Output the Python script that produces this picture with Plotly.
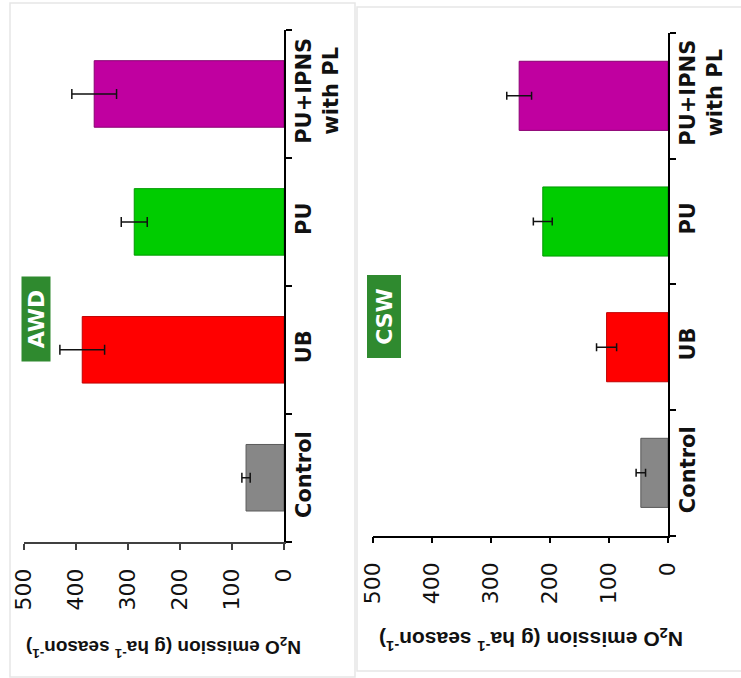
import plotly.graph_objects as go

# Treatments (bottom to top along the category axis)
categories = ["Control", "UB", "PU", "PU+IPNS<br>with PL"]
bar_colors = ["#878787", "#ff0000", "#00cc00", "#c000a0"]
edge_colors = ["#5a5a5a", "#c00000", "#009a00", "#8a0072"]

# Seasonal N2O emission (g ha-1 season-1) and standard errors
awd_values = [73, 388, 288, 365]
awd_errors = [8, 43, 25, 43]
csw_values = [46, 104, 212, 252]
csw_errors = [8, 17, 16, 21]

value_ticks = [0, 100, 200, 300, 400, 500]

W, H = 741, 678


def px(x):
    return x / W


def py(y):
    return 1 - y / H


fig = go.Figure()

fig.add_trace(go.Bar(
    orientation="h", x=awd_values, y=categories, xaxis="x", yaxis="y",
    width=0.52,
    marker=dict(color=bar_colors, line=dict(color=edge_colors, width=1)),
    error_x=dict(type="data", array=awd_errors, color="#111111",
                 thickness=1.5, width=5),
    showlegend=False,
))
fig.add_trace(go.Bar(
    orientation="h", x=csw_values, y=categories, xaxis="x2", yaxis="y2",
    width=0.55,
    marker=dict(color=bar_colors, line=dict(color=edge_colors, width=1)),
    error_x=dict(type="data", array=csw_errors, color="#111111",
                 thickness=1.5, width=4),
    showlegend=False,
))

tick_font = dict(family="DejaVu Sans", size=22, color="#111111")
cat_font = dict(family="DejaVu Sans", size=21, color="#111111", weight="bold")


def value_axis(domain, anchor, linecolor, linewidth):
    return dict(
        domain=domain, anchor=anchor, range=[500, 0], automargin=False,
        tickvals=value_ticks, ticks="outside", ticklen=6, tickwidth=1.5,
        tickcolor=linecolor, tickangle=-90, tickfont=tick_font,
        ticklabelstandoff=10,
        showline=True, linecolor=linecolor, linewidth=linewidth,
        showgrid=False, zeroline=False, fixedrange=True,
    )


def category_axis(domain, anchor):
    return dict(
        domain=domain, anchor=anchor, side="right", type="category",
        categoryorder="array", categoryarray=categories, range=[-0.5, 3.5],
        automargin=False,
        ticks="outside", tickson="boundaries", ticklen=6, tickwidth=1.5,
        tickcolor="black", tickangle=-90, tickfont=cat_font,
        showline=True, linecolor="black", linewidth=1.5,
        showgrid=False, zeroline=False, fixedrange=True,
    )


fig.update_layout(
    width=W, height=H,
    margin=dict(l=0, r=0, t=0, b=0, pad=0, autoexpand=False),
    paper_bgcolor="white", plot_bgcolor="white",
    xaxis=value_axis([px(24), px(284)], "y", "#404040", 2),
    yaxis=category_axis([py(541.7), py(30)], "x"),
    xaxis2=value_axis([px(372.7), px(668)], "y2", "black", 1.5),
    yaxis2=category_axis([py(535.7), py(33)], "x2"),
    showlegend=False,
)

# Panel frames
fig.add_shape(type="rect", xref="paper", yref="paper",
              x0=px(10), x1=px(355), y0=py(677), y1=py(3),
              line=dict(color="#e6e6e6", width=1.5), layer="below")
fig.add_shape(type="rect", xref="paper", yref="paper",
              x0=px(357), x1=px(745), y0=py(671), y1=py(7),
              line=dict(color="#e6e6e6", width=1.5), layer="below")

title_text = "N<sub>2</sub>O emission (g ha<sup>-1</sup> season<sup>-1</sup>)"
title_font = dict(family="Liberation Sans, Arial", color="#111111", weight="bold")

fig.add_annotation(text=title_text, xref="paper", yref="paper",
                   x=px(164), y=py(648), xanchor="center", yanchor="middle",
                   textangle=180, showarrow=False,
                   font=dict(title_font, size=19))
fig.add_annotation(text=title_text, xref="paper", yref="paper",
                   x=px(531), y=py(640), xanchor="center", yanchor="middle",
                   textangle=180, showarrow=False,
                   font=dict(title_font, size=21))

# Water-regime tags
tag_font = dict(family="DejaVu Sans", size=22, color="white", weight="bold")
for label, cx, cy, w, h in [("AWD", 36, 319, 84, 28), ("CSW", 383.5, 317, 82, 33)]:
    fig.add_annotation(text=label, xref="paper", yref="paper",
                       x=px(cx), y=py(cy), xanchor="center", yanchor="middle",
                       textangle=-90, showarrow=False, bgcolor="#2f8a2f",
                       width=w, height=h, borderpad=0, font=tag_font)

fig.write_html("out.html")
